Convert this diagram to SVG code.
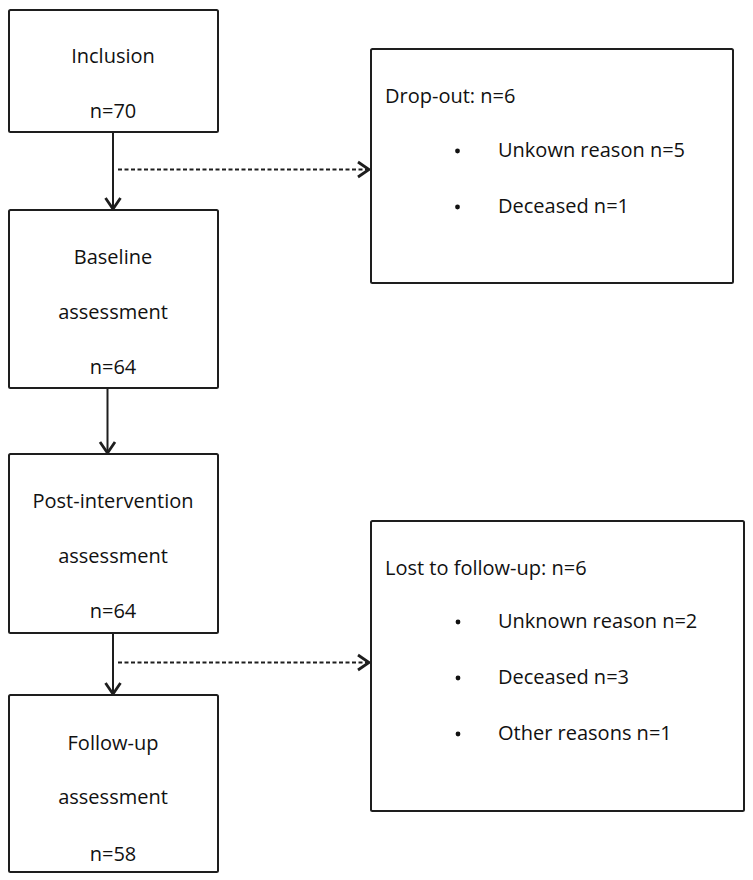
<svg xmlns="http://www.w3.org/2000/svg" width="753" height="880" viewBox="0 0 753 880">
<style>
.box{fill:#fff;stroke:#1e1e1e;stroke-width:2}
.t{font-family:"Open Sans","Liberation Sans",sans-serif;font-size:20px;fill:#111}
.c{text-anchor:middle}
.solid{stroke:#1e1e1e;stroke-width:2;fill:none}
.dash{stroke:#1e1e1e;stroke-width:2;fill:none;stroke-dasharray:4 2.5}
</style>
<defs>
<marker id="chev" markerUnits="userSpaceOnUse" markerWidth="20" markerHeight="20" viewBox="0 0 20 20" refX="16" refY="10" orient="auto">
<path d="M5,2.5 L16,10 L5,17.5" fill="none" stroke="#1e1e1e" stroke-width="2.8" stroke-linejoin="miter"/>
</marker>
</defs>
<rect width="753" height="880" fill="#fff"/>
<g id="connectors">
<line class="solid" x1="113" y1="132" x2="113" y2="209" marker-end="url(#chev)"/>
<line class="dash" x1="118" y1="169.5" x2="369" y2="169.5" marker-end="url(#chev)"/>
<line class="solid" x1="107.5" y1="388" x2="107.5" y2="453" marker-end="url(#chev)"/>
<line class="solid" x1="113" y1="633" x2="113" y2="694" marker-end="url(#chev)"/>
<line class="dash" x1="118" y1="662.5" x2="369" y2="662.5" marker-end="url(#chev)"/>
</g>
<g id="inclusion">
<rect class="box" x="9" y="10" width="209" height="122" rx="1.5"/>
<text class="t c" x="113" y="63">Inclusion</text>
<text class="t c" x="113" y="118">n=70</text>
</g>
<g id="baseline">
<rect class="box" x="9" y="210" width="209" height="178" rx="1.5"/>
<text class="t c" x="113" y="264">Baseline</text>
<text class="t c" x="113" y="319">assessment</text>
<text class="t c" x="113" y="374">n=64</text>
</g>
<g id="post-intervention">
<rect class="box" x="9" y="454" width="209" height="179" rx="1.5"/>
<text class="t c" x="113" y="508">Post-intervention</text>
<text class="t c" x="113" y="562.5">assessment</text>
<text class="t c" x="113" y="618">n=64</text>
</g>
<g id="follow-up">
<rect class="box" x="9" y="695" width="209" height="177" rx="1.5"/>
<text class="t c" x="113" y="750">Follow-up</text>
<text class="t c" x="113" y="804">assessment</text>
<text class="t c" x="113" y="860.5">n=58</text>
</g>
<g id="drop-out">
<rect class="box" x="371" y="49" width="362" height="234" rx="1.5"/>
<text class="t" x="385" y="102.5">Drop-out: n=6</text>
<circle cx="457.5" cy="151" r="2.4" fill="#111"/>
<text class="t" x="498" y="157">Unkown reason n=5</text>
<circle cx="457.5" cy="207" r="2.4" fill="#111"/>
<text class="t" x="498" y="212.5">Deceased n=1</text>
</g>
<g id="lost">
<rect class="box" x="371" y="521" width="373" height="290" rx="1.5"/>
<text class="t" x="385" y="575">Lost to follow-up: n=6</text>
<circle cx="458" cy="622" r="2.4" fill="#111"/>
<text class="t" x="498" y="628">Unknown reason n=2</text>
<circle cx="458" cy="678" r="2.4" fill="#111"/>
<text class="t" x="498" y="684">Deceased n=3</text>
<circle cx="458" cy="734" r="2.4" fill="#111"/>
<text class="t" x="498" y="740">Other reasons n=1</text>
</g>
</svg>
